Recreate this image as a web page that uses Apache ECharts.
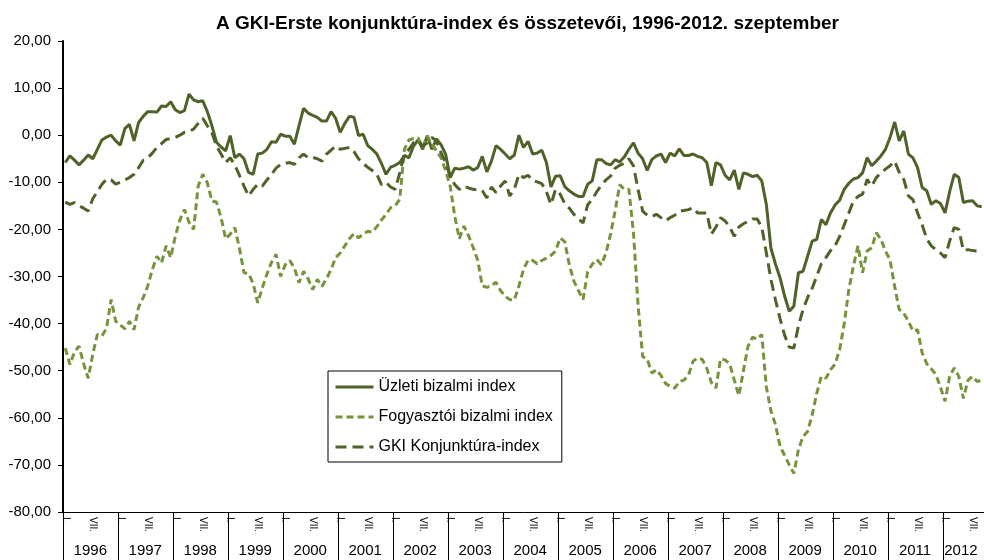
<!DOCTYPE html>
<html>
<head>
<meta charset="utf-8">
<script src="https://cdn.jsdelivr.net/npm/echarts@6/dist/echarts.min.js"></script>
<style>
  html, body { margin: 0; padding: 0; background: #fff; }
  #chart { width: 984px; height: 560px; }
</style>
</head>
<body>
<div id="chart"></div>
<script>
// évek a kategóriatengelyen
var years = ['1996', '1997', '1998', '1999', '2000', '2001', '2002', '2003', '2004',
  '2005', '2006', '2007', '2008', '2009', '2010', '2011', '2012'];
// hónapjelölések (január, július)
var monthMarks = ['I.', 'VII.'];

// Üzleti bizalmi index (havi, 1996.01 - 2012.09)
var uzleti = [
  -5.8, -4.4, -5.3, -6.3, -5.3, -4.2, -5.0, -3.0, -1.0, -0.4, 0.0, -1.2,
  -2.1, 1.4, 2.3, -1.2, 2.7, 4.0, 5.0, 5.0, 4.9, 6.2, 6.1, 7.1,
  5.4, 4.8, 5.2, 8.7, 7.5, 7.1, 7.3, 5.0, 2.0, -1.5, -2.5, -3.3,
  -0.1, -4.8, -4.0, -5.0, -7.9, -8.3, -4.0, -3.8, -3.0, -1.4, -1.5, 0.2,
  -0.2, -0.2, -1.9, 2.0, 5.7, 4.7, 4.2, 3.8, 3.0, 3.0, 5.0, 3.6,
  0.6, 2.5, 4.0, 3.8, -0.1, 0.2, -2.2, -3.0, -4.0, -6.0, -8.3, -6.8,
  -6.4, -5.8, -4.3, -4.8, -2.3, -1.0, -3.0, -0.1, -3.0, -0.8, -2.0, -4.0,
  -9.0, -7.0, -7.2, -7.0, -6.7, -7.4, -6.9, -4.5, -7.8, -5.5, -2.2, -3.0,
  -4.0, -5.0, -4.2, 0.0, -2.6, -1.3, -4.0, -3.8, -3.2, -5.8, -11.0, -8.7,
  -8.6, -10.9, -11.8, -12.5, -13.0, -13.0, -10.4, -9.7, -5.2, -5.2, -6.0, -6.3,
  -5.2, -5.7, -4.6, -3.0, -1.6, -3.8, -5.0, -7.5, -5.2, -4.4, -4.0, -5.8,
  -3.8, -4.4, -2.9, -4.3, -4.3, -4.0, -4.5, -4.8, -5.8, -10.7, -5.8, -6.3,
  -8.5, -9.5, -7.4, -11.5, -8.0, -8.3, -8.8, -8.5, -9.7, -14.7, -24.0, -27.4,
  -30.3, -34.2, -37.4, -36.3, -29.2, -28.9, -25.7, -22.5, -22.1, -17.9, -19.0, -16.5,
  -14.8, -13.8, -11.5, -10.2, -9.3, -9.0, -8.0, -4.8, -6.5, -5.5, -4.4, -3.0,
  -0.5, 2.8, -1.2, 0.9, -4.0, -4.8, -6.9, -11.1, -11.8, -14.7, -13.9, -14.5,
  -16.5, -12.0, -8.3, -9.0, -14.3, -14.0, -13.9, -15.0, -15.2
];

// Fogyasztói bizalmi index
var fogyasztoi = [
  -45.2, -48.7, -46.0, -44.8, -48.5, -51.6, -46.5, -42.3, -42.6, -41.0, -34.9, -39.5,
  -40.3, -41.1, -39.5, -41.3, -36.5, -34.5, -32.0, -28.5, -25.7, -27.1, -23.5, -26.0,
  -21.5, -18.0, -15.8, -18.5, -20.0, -10.8, -8.3, -10.1, -14.0, -14.2, -17.5, -22.0,
  -21.0, -19.6, -24.0, -29.2, -29.4, -31.5, -35.6, -32.4, -29.5, -27.0, -25.3, -30.0,
  -27.5, -26.6, -28.2, -31.3, -28.9, -30.5, -32.8, -30.6, -32.1, -30.5, -28.5, -26.0,
  -25.0, -23.5, -22.0, -20.9, -21.8, -21.0, -20.4, -20.6, -19.4, -18.0, -16.8, -15.4,
  -15.0, -13.6, -3.0, -1.0, -0.7, -0.6, -2.6, -0.2, -1.9, -3.3, -4.8, -7.5,
  -10.8, -17.2, -22.0, -19.3, -21.3, -23.8, -26.5, -32.0, -32.3, -32.0, -31.2, -33.0,
  -34.2, -34.9, -35.0, -32.0, -28.5, -26.5, -26.6, -27.3, -26.6, -26.1, -25.5, -24.6,
  -21.8, -22.6, -27.5, -31.0, -33.0, -34.9, -29.0, -27.4, -26.4, -27.5, -25.0, -21.0,
  -16.1, -10.5, -11.5, -11.5, -20.7, -36.0, -47.0, -47.5, -50.5, -49.8, -51.0, -52.7,
  -53.3, -53.7, -52.3, -52.0, -51.0, -48.0, -47.3, -47.6, -49.5, -52.5, -53.7, -47.5,
  -47.7, -48.6, -52.0, -55.3, -50.0, -44.8, -42.9, -43.3, -42.3, -53.5, -58.5, -61.5,
  -66.1, -68.0, -70.0, -71.8, -66.8, -64.0, -62.9, -59.4, -54.8, -51.2, -51.6, -49.8,
  -48.6, -45.5, -40.0, -32.8, -27.8, -23.5, -29.2, -24.6, -23.9, -20.7, -22.1, -24.6,
  -26.5, -32.1, -37.0, -37.8, -39.5, -41.6, -41.3, -46.2, -48.5, -49.6, -50.8, -53.5,
  -56.5, -51.2, -49.4, -51.2, -55.9, -52.0, -51.2, -52.3, -52.0
];

// GKI konjunktúra-index
var gki = [
  -14.2, -14.7, -14.3, -15.0, -15.5, -16.1, -13.5, -12.0, -10.4, -9.3, -9.5, -10.4,
  -10.0, -9.5, -9.0, -8.3, -6.9, -5.3, -4.8, -3.8, -2.6, -1.8, -0.9, -0.7,
  -0.5, 0.0, 0.6, 0.8, 1.3, 2.5, 3.6, 2.0, 0.5, -2.3, -4.0, -5.8,
  -4.8, -6.3, -8.5, -10.8, -12.9, -11.5, -10.4, -10.8, -9.5, -8.3, -7.0, -6.2,
  -6.0, -5.8, -6.2, -4.8, -4.0, -4.8, -4.7, -5.0, -5.5, -4.0, -3.2, -2.3,
  -3.0, -2.8, -2.6, -3.5, -5.0, -6.0, -6.8, -7.5, -8.3, -10.5, -10.0, -11.0,
  -11.5, -8.0, -4.0, -3.0, -1.6, -1.2, -2.3, -1.6, -0.5, -1.2, -3.7, -5.8,
  -8.7, -10.5, -11.5, -10.8, -11.2, -11.5, -11.6, -11.8, -13.3, -11.0, -12.2, -10.8,
  -9.7, -12.9, -11.5, -8.3, -9.0, -8.5, -9.6, -9.9, -10.3, -12.0, -14.7, -11.5,
  -12.5, -14.5, -15.5, -16.8, -17.8, -18.6, -14.8, -13.6, -12.0, -10.6, -9.5, -8.7,
  -7.0, -6.4, -6.0, -5.0, -6.5, -11.5, -16.1, -17.0, -17.3, -16.8, -17.5, -18.2,
  -17.5, -17.0, -16.1, -16.0, -15.8, -15.4, -16.5, -16.5, -16.5, -21.0, -19.5, -17.5,
  -18.2, -19.5, -21.5, -19.5, -18.8, -18.3, -17.8, -17.8, -19.5, -25.0, -30.6, -35.0,
  -39.0, -42.5, -45.0, -45.2, -40.5, -37.0, -34.5, -32.5, -29.9, -27.3, -26.0, -24.5,
  -23.5, -21.5, -19.0, -16.5, -14.0, -13.0, -12.5, -9.4, -10.8, -9.0, -8.0, -7.2,
  -6.5, -5.5, -7.9, -9.4, -12.9, -13.7, -16.5, -19.0, -22.0, -23.5, -24.3, -25.0,
  -26.0, -22.5, -19.6, -20.0, -24.5, -24.3, -24.5, -24.6, -24.6
];

var seriesNames = ['Üzleti bizalmi index', 'Fogyasztói bizalmi index', 'GKI Konjunktúra-index'];

// kategóriák: év.hónap
var categories = [];
years.forEach(function (y) {
  for (var m = 1; m <= 12; m++) {
    categories.push(y + '.' + m);
  }
});
categories = categories.slice(0, uzleti.length);

var font = "'Liberation Sans', Arial, sans-serif";

var myChart = echarts.init(document.getElementById('chart'));
var option = {
  animation: false,
  backgroundColor: '#fff',
  title: {
    text: 'A GKI-Erste konjunktúra-index és összetevői, 1996-2012. szeptember',
    left: 211,
    top: 9,
    textStyle: {
      fontFamily: font,
      fontSize: 19,
      fontWeight: 'bold',
      color: '#000'
    }
  },
  legend: {
    data: seriesNames,
    orient: 'vertical',
    left: 328,
    top: 371,
    itemWidth: 38,
    itemHeight: 16,
    itemGap: 14,
    padding: [8, 9, 7, 6],
    borderColor: '#000',
    borderWidth: 1,
    backgroundColor: '#fff',
    // csak a vonal látszódjon, a jelölő ne
    itemStyle: {
      color: 'rgba(0,0,0,0)',
      borderColor: 'rgba(0,0,0,0)',
      borderWidth: 0
    },
    lineStyle: {
      width: 3
    },
    textStyle: {
      fontFamily: font,
      fontSize: 16,
      color: '#000'
    }
  },
  grid: {
    left: 63,
    top: 41,
    right: -5,
    bottom: 48,
    containLabel: false
  },
  xAxis: [
    {
      type: 'category',
      data: categories,
      boundaryGap: true,
      position: 'bottom',
      axisLine: { show: true, onZero: false, lineStyle: { color: '#000', width: 1 } },
      // évhatárok: hosszú függőleges vonalak
      axisTick: {
        show: true,
        length: 48,
        interval: function (index) { return index % 12 === 0; },
        lineStyle: { color: '#000', width: 1 }
      },
      axisLabel: {
        interval: function (index) { return index % 6 === 0; },
        formatter: function (value, index) {
          return index % 12 === 0 ? monthMarks[0] : monthMarks[1];
        },
        rotate: -90,
        margin: 5,
        fontFamily: font,
        fontSize: 10,
        color: '#000'
      },
      splitLine: { show: false }
    },
    {
      type: 'category',
      data: categories,
      boundaryGap: true,
      position: 'bottom',
      axisLine: { show: false, onZero: false },
      axisTick: { show: false },
      axisLabel: {
        interval: function (index) { return index % 12 === 6 || index === 196; },
        formatter: function (value, index) {
          return years[Math.floor(index / 12)];
        },
        margin: 31,
        padding: [0, 5, 0, 0],
        fontFamily: font,
        fontSize: 15,
        color: '#000'
      },
      splitLine: { show: false }
    }
  ],
  yAxis: {
    type: 'value',
    min: -80,
    max: 20,
    interval: 10,
    axisLine: { show: true, lineStyle: { color: '#000', width: 2 } },
    axisTick: { show: true, length: 5, lineStyle: { color: '#000', width: 1 } },
    axisLabel: {
      margin: 12,
      fontFamily: font,
      fontSize: 15,
      color: '#000',
      formatter: function (v) { return v.toFixed(2).replace('.', ','); }
    },
    splitLine: { show: false }
  },
  series: [
    {
      name: seriesNames[0],
      type: 'line',
      data: uzleti,
      symbol: 'none',
      color: '#4F6228',
      lineStyle: { width: 3, color: '#4F6228', type: 'solid' }
    },
    {
      name: seriesNames[1],
      type: 'line',
      data: fogyasztoi,
      symbol: 'none',
      color: '#77933C',
      lineStyle: { width: 3, color: '#77933C', type: [7, 4] }
    },
    {
      name: seriesNames[2],
      type: 'line',
      data: gki,
      symbol: 'none',
      color: '#4F6228',
      lineStyle: { width: 3, color: '#4F6228', type: [11, 6] }
    }
  ]
};
myChart.setOption(option);
</script>
</body>
</html>
